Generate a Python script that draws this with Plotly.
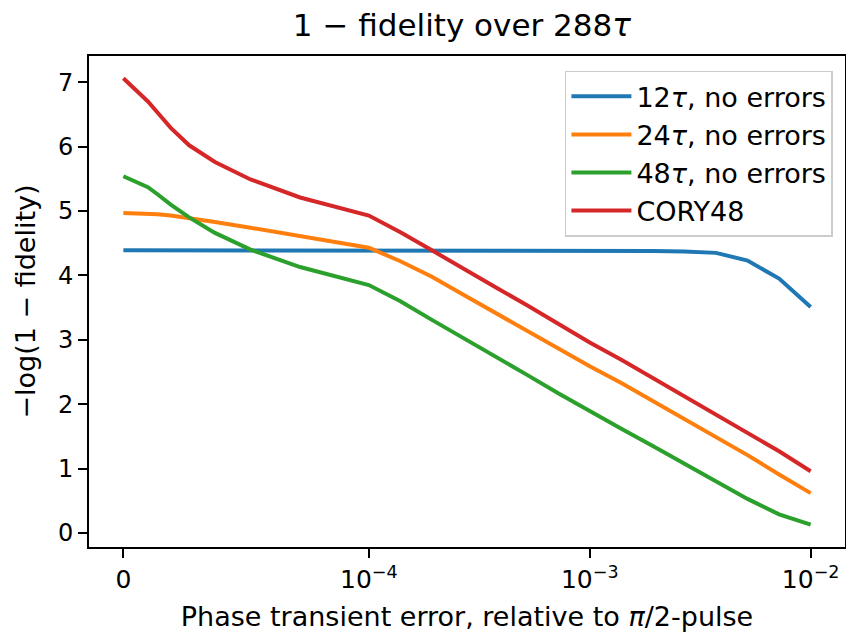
import numpy as np
import plotly.graph_objects as go

# Phase transient error (fraction of a pi/2 pulse), 7 samples per decade plus zero
phase_error = [0, 1e-5, 1.39e-5, 1.93e-5, 2.68e-5, 3.73e-5, 5.18e-5, 7.2e-5,
               1e-4, 1.39e-4, 1.93e-4, 2.68e-4, 3.73e-4, 5.18e-4, 7.2e-4,
               1e-3, 1.39e-3, 1.93e-3, 2.68e-3, 3.73e-3, 5.18e-3, 7.2e-3, 1e-2]

# -log10(1 - fidelity) for each sequence
seq_12tau = [4.39, 4.39, 4.39, 4.39, 4.39, 4.39, 4.39, 4.39,
             4.39, 4.39, 4.39, 4.39, 4.39, 4.39, 4.39,
             4.39, 4.39, 4.38, 4.37, 4.35, 4.23, 3.95, 3.51]
seq_24tau = [4.97, 4.96, 4.95, 4.93, 4.89, 4.83, 4.74, 4.61,
             4.43, 4.22, 3.98, 3.70, 3.42, 3.14, 2.86,
             2.59, 2.33, 2.05, 1.78, 1.50, 1.21, 0.91, 0.62]
seq_48tau = [5.54, 5.37, 5.26, 5.10, 4.90, 4.66, 4.40, 4.13,
             3.85, 3.60, 3.31, 3.03, 2.75, 2.46, 2.17,
             1.89, 1.62, 1.35, 1.08, 0.81, 0.53, 0.29, 0.13]
cory48 = [7.06, 6.70, 6.53, 6.29, 6.02, 5.76, 5.49, 5.21,
          4.93, 4.67, 4.39, 4.10, 3.82, 3.54, 3.25,
          2.96, 2.69, 2.41, 2.13, 1.84, 1.56, 1.27, 0.96]

series_names = ["12<i>τ</i>, no errors", "24<i>τ</i>, no errors",
                "48<i>τ</i>, no errors", "CORY48"]
series_values = [seq_12tau, seq_24tau, seq_48tau, cory48]
series_colors = ["#1f77b4", "#ff7f0e", "#2ca02c", "#d62728"]

x_tick_values = [0, 1e-4, 1e-3, 1e-2]
x_tick_labels = ["0", "10<sup>−4</sup>", "10<sup>−3</sup>", "10<sup>−2</sup>"]
y_tick_values = [0, 1, 2, 3, 4, 5, 6, 7]

LINTHRESH = 1e-4
LINSCALE = 1.0


def symlog(x):
    """Symmetric-log transform: linear below LINTHRESH, log10 above."""
    x = np.asarray(x, dtype=float)
    lin_span = LINSCALE / (1 - 1 / 10)
    ax = np.abs(x)
    out = np.where(ax <= LINTHRESH,
                   ax / LINTHRESH * lin_span,
                   lin_span + np.log10(np.maximum(ax, LINTHRESH) / LINTHRESH))
    return np.sign(x) * out


xt = symlog(phase_error)

fig = go.Figure()
for name, vals, col in zip(series_names, series_values, series_colors):
    fig.add_trace(go.Scatter(x=xt, y=vals, mode="lines", name=name,
                             line=dict(color=col, width=4)))

# 5% padding around the data, both axes
x_lo, x_hi = float(xt.min()), float(xt.max())
all_y = np.concatenate([np.asarray(v) for v in series_values])
y_lo, y_hi = float(all_y.min()), float(all_y.max())
xpad = 0.05 * (x_hi - x_lo)
ypad = 0.05 * (y_hi - y_lo)

font_family = "DejaVu Sans"
fig.update_layout(
    width=846, height=632,
    margin=dict(l=89, r=1, t=56, b=85, autoexpand=False),
    plot_bgcolor="white", paper_bgcolor="white",
    font=dict(family=font_family, color="black", size=24),
    title=dict(text="1 − fidelity over 288<i>τ</i>", x=0.546, xanchor="center",
               y=1 - 25 / 632, yanchor="middle", yref="container",
               font=dict(size=31, family=font_family)),
    legend=dict(x=0.984, y=0.970, xanchor="right", yanchor="top",
                bgcolor="rgba(255,255,255,0.8)", bordercolor="#cccccc",
                borderwidth=1.5, font=dict(size=27, family=font_family),
                itemwidth=60, tracegroupgap=0),
    showlegend=True,
)
fig.update_xaxes(
    range=[x_lo - xpad, x_hi + xpad], automargin=False,
    tickmode="array", tickvals=symlog(x_tick_values).tolist(), ticktext=x_tick_labels,
    ticks="outside", ticklen=9, tickwidth=2, tickcolor="black",
    showline=True, linecolor="black", linewidth=2, mirror=True,
    showgrid=False, zeroline=False,
    tickfont=dict(size=25),
    title=dict(text="Phase transient error, relative to <i>π</i>/2-pulse",
               font=dict(size=27), standoff=14),
)
fig.update_yaxes(
    range=[y_lo - ypad, y_hi + ypad], automargin=False,
    tickmode="array", tickvals=y_tick_values,
    ticks="outside", ticklen=9, tickwidth=2, tickcolor="black",
    showline=True, linecolor="black", linewidth=2, mirror=True,
    showgrid=False, zeroline=False,
    tickfont=dict(size=24),
    title=dict(text="−log(1 − fidelity)", font=dict(size=27), standoff=14),
)

fig.write_html("out.html")
